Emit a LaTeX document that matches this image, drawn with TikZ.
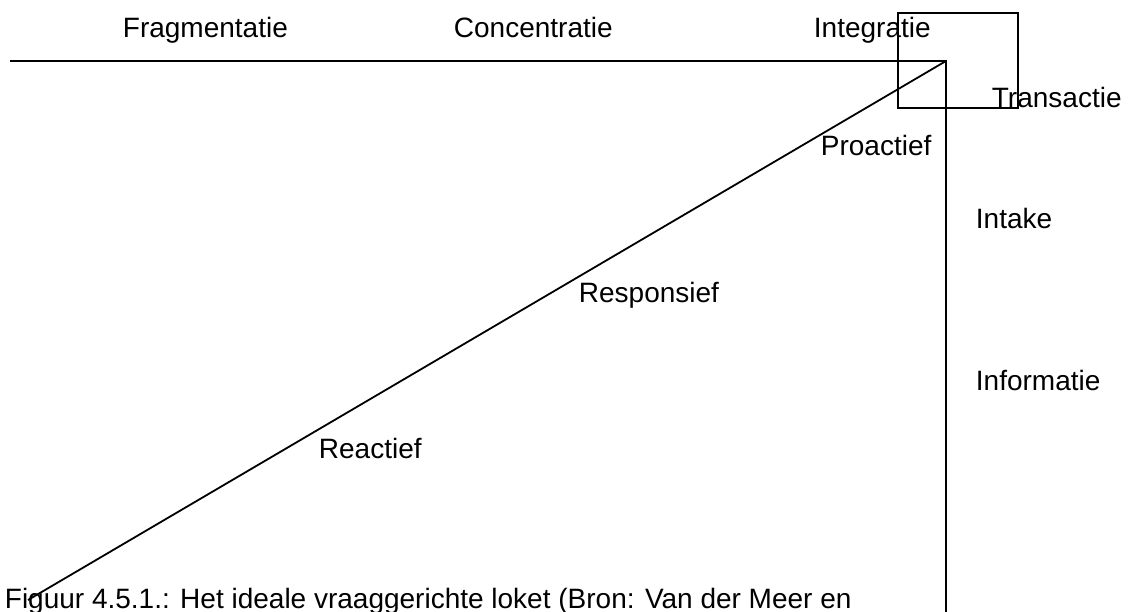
\documentclass[tikz,border=0pt]{standalone}
\usepackage{fontspec}
\setmainfont{Liberation Sans}
\usetikzlibrary{positioning}

\begin{document}
\begin{tikzpicture}[x=1pt,y=-1pt,line width=1.8pt,
                    lbl/.style={anchor=base west,inner sep=0pt,font=\fontsize{28}{34}\selectfont}]
\useasboundingbox (0,0) rectangle (1132,612);
\coordinate (corner) at (946,61);
\coordinate (left) at (10,61);
\coordinate (low) at (28,600);
\coordinate (bottom) at (946,640);
\draw (left) -- (corner) -- (bottom);
\draw (corner) -- (low);
\draw (898,13) rectangle (1018,108);
\node[lbl] (frag) at (122,38) {Fragmentatie};
\node[lbl] (conc) at (453,38) {Concentratie};
\node[lbl] (integ) at (813,38) {Integratie};
\node[lbl] (trans) at (991,108) {Transactie};
\node[lbl] (pro) at (820,156) {Proactief};
\node[lbl] (intake) at (975,229) {Intake};
\node[lbl] (resp) at (578,302) {Responsief};
\node[lbl] (info) at (975,390) {Informatie};
\node[lbl] (reac) at (318,458) {Reactief};
\node[lbl] (caption) at (4,608) {Figuur 4.5.1.: Het ideale vraaggerichte loket (Bron: Van der Meer en};
\end{tikzpicture}
\end{document}
